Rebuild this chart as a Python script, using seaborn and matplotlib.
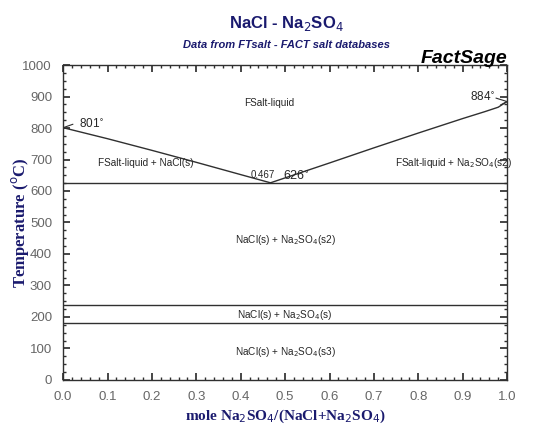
import numpy as np
import pandas as pd
import seaborn as sns
import matplotlib
matplotlib.use("Agg")
import matplotlib.pyplot as plt

# phase boundaries #
liq_left_x = [0.0, 0.1, 0.2, 0.3, 0.4, 0.467]
liq_left_t = [801, 766, 729, 691, 652, 626]
liq_right_x = [0.467, 0.6, 0.7, 0.8, 0.9, 0.95, 0.98, 1.0]
liq_right_t = [626, 689, 737, 784, 830, 852, 866, 884]
eutectic_t = 626
eutectic_x = 0.467
solid_trans_t = [237, 180]

x_ticks = np.arange(0, 1.01, 0.1)
y_ticks = np.arange(0, 1001, 100)

navy = "#1a1a6e"
linec = "#303030"
tickc = "#666666"

sns.set_theme(style="ticks")
plt.rcParams['font.family'] = ['Liberation Sans', 'DejaVu Sans']

fig = plt.figure(figsize=(5.4, 4.25), dpi=100)
ax = fig.add_axes([0.117, 0.106, 0.822, 0.741])

liq = pd.concat([
    pd.DataFrame({"x": liq_left_x, "T": liq_left_t, "seg": "left"}),
    pd.DataFrame({"x": liq_right_x, "T": liq_right_t, "seg": "right"}),
])
sns.lineplot(data=liq, x="x", y="T", units="seg", estimator=None, color=linec,
             lw=1.0, ax=ax, legend=False, sort=False)

for t in [eutectic_t] + solid_trans_t:
    ax.axhline(t, color=linec, lw=1.0)

ax.set_xlim(0, 1)
ax.set_ylim(0, 1000)
ax.set_xticks(x_ticks)
ax.set_xticklabels([f"{v:.1f}" for v in x_ticks])
ax.set_yticks(y_ticks)
ax.set_xticks(np.arange(0, 1.001, 0.02), minor=True)
ax.set_yticks(np.arange(0, 1001, 25), minor=True)
ax.tick_params(which="both", direction="in", top=True, right=True, colors=linec,
               labelcolor=tickc, labelsize=9.5)
ax.tick_params(which="major", length=5, pad=8)
ax.tick_params(which="minor", length=2.5)
for s in ax.spines.values():
    s.set_color(linec)
    s.set_linewidth(1.0)

ax.set_xlabel(r"mole Na$_2$SO$_4$/(NaCl+Na$_2$SO$_4$)", family="Liberation Serif",
              fontweight="bold", color=navy, fontsize=11, labelpad=3)
ax.set_ylabel(r"Temperature ($^{\rm o}$C)", family="Liberation Serif",
              fontweight="bold", color=navy, fontsize=12)
ax.yaxis.set_label_coords(-0.072, 0.5)

fs = 7.2
ax.text(0.465, 880, "FSalt-liquid", ha="center", va="center", fontsize=fs)
ax.text(0.185, 689, "FSalt-liquid + NaCl(s)", ha="center", va="center", fontsize=fs)
ax.text(0.88, 689, r"FSalt-liquid + Na$_2$SO$_4$(s2)", ha="center", va="center", fontsize=fs)
ax.text(0.5, 444, r"NaCl(s) + Na$_2$SO$_4$(s2)", ha="center", va="center", fontsize=fs)
ax.text(0.5, 206, r"NaCl(s) + Na$_2$SO$_4$(s)", ha="center", va="center", fontsize=fs)
ax.text(0.5, 88, r"NaCl(s) + Na$_2$SO$_4$(s3)", ha="center", va="center", fontsize=fs)
ax.text(eutectic_x - 0.018, 650, f"{eutectic_x:.3f}", ha="center", va="center", fontsize=7)
ax.text(0.525, 645, r"626$^{\circ}$", ha="center", va="center", fontsize=9)
ax.text(0.065, 812, r"801$^{\circ}$", ha="center", va="center", fontsize=8.5)
ax.plot([0.0, 0.022], [801, 812], color=linec, lw=0.8)
ax.text(0.945, 898, r"884$^{\circ}$", ha="center", va="center", fontsize=8.5)
ax.plot([0.975, 1.0, 0.985], [895, 884, 873], color=linec, lw=0.8)

fig.text(0.53, 0.945, r"NaCl - Na$_2$SO$_4$", ha="center", va="center",
         fontsize=12, fontweight="bold", color=navy)
fig.text(0.53, 0.893, "Data from FTsalt - FACT salt databases", ha="center", va="center",
         fontsize=8, fontweight="bold", style="italic", color=navy)
fig.text(0.939, 0.862, "FactSage", ha="right", va="center",
         fontsize=14, fontweight="bold", style="italic", color="black")

fig.savefig("out.png", dpi=100, facecolor="white")
